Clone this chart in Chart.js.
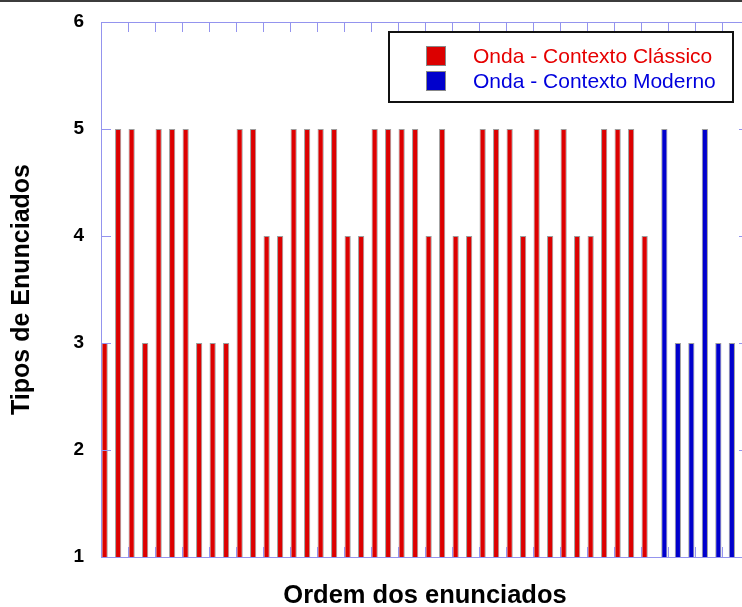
<!DOCTYPE html>
<html lang="pt">
<head>
<meta charset="UTF-8">
<title>Tipos de Enunciados</title>
<style>
  body { margin: 0; overflow: hidden; background: #fff; }
  #wrap { position: relative; width: 752px; height: 607px; }
  #grafico { display: block; }
  #topo { position: absolute; left: 0; top: 0; width: 742px; height: 2px; background: #3c3c3c; }
</style>
</head>
<body>
<div id="wrap">
  <canvas id="grafico" width="752" height="607"></canvas>
  <div id="topo"></div>
</div>

<script src="https://cdn.jsdelivr.net/npm/chart.js"></script>
<script>
// tipo de cada enunciado, na ordem em que aparecem
const classico = [3,5,5,3,5,5,5,3,3,3,5,5, 4,4,5,5,5,5,4,4,5,5,5,5, 4,5,4,4,5,5,5,4,5,4,5,4, 4,5,5,5,4]
const moderno = [5,3,3,5,3,3]
const yTicks = [1,2,3,4,5,6]
const nomes = ['Onda - Contexto Clássico', 'Onda - Contexto Moderno']
const cores = ['#dc0000', '#0000cc']
const corTexto = ['#e60000', '#0000dd']
const corEixo = '#9494ee'
const fonte = "'Liberation Sans', Arial, sans-serif"

const nTotal = classico.length + moderno.length
const ptsClassico = classico.map((v, i) => ({ x: i + 1, y: v }))
const ptsModerno = moderno.map((v, i) => ({ x: classico.length + i + 1, y: v }))

// moldura azul com marcas para dentro, como no original
const moldura = {
    id: 'moldura',
    afterDatasetsDraw(chart) {
        const { ctx, chartArea: a, scales } = chart
        ctx.save()
        ctx.strokeStyle = corEixo
        ctx.lineWidth = 1
        ctx.strokeRect(a.left + 0.5, a.top + 0.5, a.right - a.left, a.bottom - a.top)
        ctx.beginPath()
        scales.y.ticks.forEach(t => {
            const py = Math.round(scales.y.getPixelForValue(t.value)) + 0.5
            ctx.moveTo(a.left, py); ctx.lineTo(a.left + 10, py)
            ctx.moveTo(a.right, py); ctx.lineTo(a.right - 10, py)
        })
        scales.x.ticks.forEach(t => {
            const px = Math.round(scales.x.getPixelForValue(t.value)) + 0.5
            ctx.moveTo(px, a.bottom); ctx.lineTo(px, a.bottom - 10)
            ctx.moveTo(px, a.top); ctx.lineTo(px, a.top + 10)
        })
        ctx.stroke()
        ctx.restore()
    }
}

// legenda dentro do gráfico com caixa preta
const legenda = {
    id: 'legenda',
    afterDraw(chart) {
        const { ctx, chartArea: a } = chart
        const w = 344, h = 70
        const x0 = a.right - 16 - w, y0 = a.top + 10
        ctx.save()
        ctx.fillStyle = '#fff'
        ctx.fillRect(x0, y0, w, h)
        ctx.strokeStyle = '#111'
        ctx.lineWidth = 2
        ctx.strokeRect(x0, y0, w, h)
        ctx.font = '21px ' + fonte
        ctx.textBaseline = 'middle'
        chart.data.datasets.forEach((ds, i) => {
            const cy = y0 + 24 + i * 25
            ctx.fillStyle = ds.backgroundColor
            ctx.fillRect(x0 + 37, cy - 10, 20, 20)
            ctx.strokeStyle = '#888'
            ctx.lineWidth = 1
            ctx.strokeRect(x0 + 37.5, cy - 9.5, 19, 19)
            ctx.fillStyle = corTexto[i]
            ctx.fillText(ds.label, x0 + 84, cy + 1)
        })
        ctx.restore()
    }
}

const ctx = document.getElementById('grafico')
new Chart(ctx, {
    type: 'bar',
    data: {
        datasets: [
            { label: nomes[0], data: ptsClassico, backgroundColor: cores[0] },
            { label: nomes[1], data: ptsModerno, backgroundColor: cores[1] }
        ]
    },
    options: {
        responsive: false,
        animation: false,
        layout: { autoPadding: false, padding: { top: 22, right: 3, left: 0, bottom: 0 } },
        datasets: {
            bar: {
                base: 1,
                borderColor: 'rgba(60,60,60,0.5)',
                borderWidth: 1,
                categoryPercentage: 0.92,
                barPercentage: 1
            }
        },
        plugins: { legend: { display: false }, tooltip: { enabled: false } },
        scales: {
            x: {
                type: 'linear',
                offset: false,
                min: 0.5,
                max: nTotal + 1.5,
                grid: { display: false, offset: false },
                border: { display: false },
                ticks: { display: false },
                afterBuildTicks: s => {
                    const t = []
                    for (let v = s.min; v <= s.max; v += 2) t.push({ value: v })
                    s.ticks = t
                },
                afterFit: s => { s.height = 50; s.paddingLeft = 0; s.paddingRight = 0 },
                title: {
                    display: true,
                    text: 'Ordem dos enunciados',
                    color: '#000',
                    font: { family: fonte, size: 25.5, weight: 'bold', lineHeight: 0.9 },
                    padding: 0
                }
            },
            y: {
                min: 1,
                max: 6,
                grid: { display: false, drawTicks: false },
                border: { display: false },
                afterBuildTicks: s => { s.ticks = yTicks.map(v => ({ value: v })) },
                ticks: {
                    color: '#000',
                    padding: 17,
                    font: { family: fonte, size: 19, weight: 'bold' }
                },
                afterFit: s => { s.width = 101; s.paddingTop = 0; s.paddingBottom = 0 },
                title: {
                    display: true,
                    text: 'Tipos de Enunciados',
                    color: '#000',
                    font: { family: fonte, size: 25, weight: 'bold', lineHeight: 1.2 },
                    padding: { top: 7 }
                }
            }
        }
    },
    plugins: [moldura, legenda]
})
</script>
</body>
</html>
